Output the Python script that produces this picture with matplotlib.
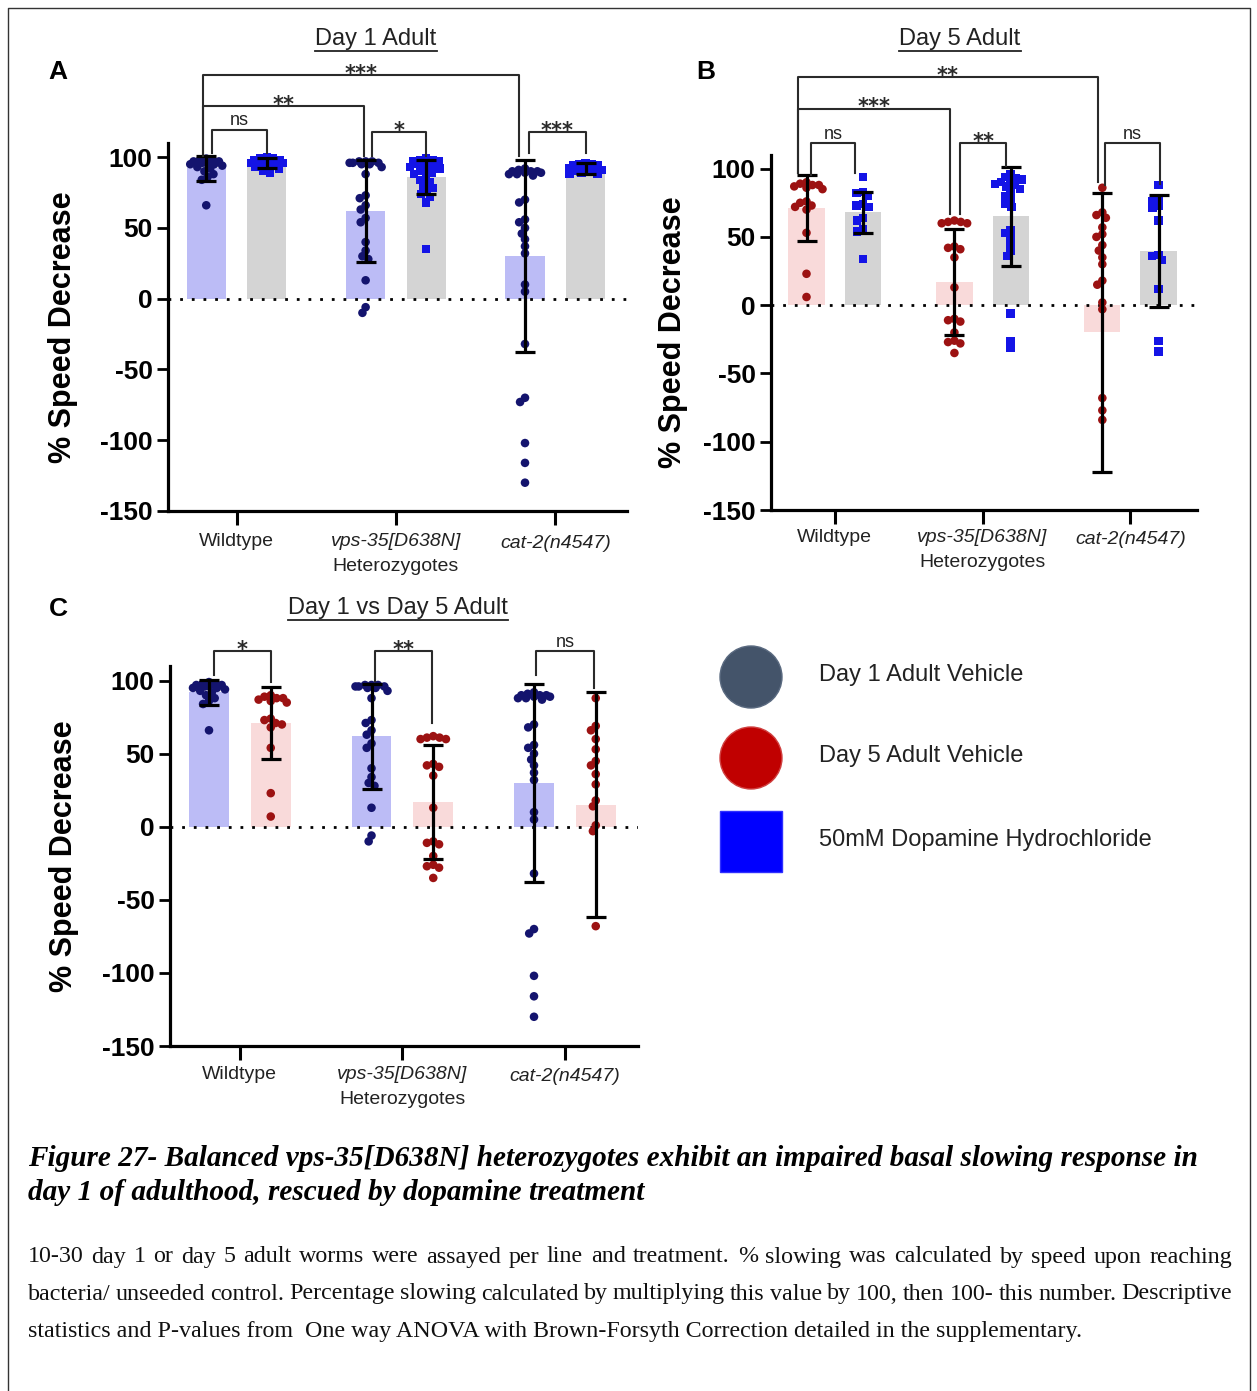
import matplotlib
matplotlib.use('Agg')
import matplotlib.pyplot as plt
from matplotlib.patches import Circle, Rectangle
import numpy as np

# ---------------- data ----------------
groups = ['Wildtype', 'vps-35[D638N]', 'cat-2(n4547)']
yticks = [-150, -100, -50, 0, 50, 100]

# Panel A: Day 1 adult, vehicle vs dopamine
a_day1_mean = [92, 62, 30]
a_day1_sd = [8.5, 36, 68]
a_dop_mean = [96, 86, 92]
a_dop_sd = [3.5, 12, 4]

day1_pts = [
    [99, 98, 98, 97, 97, 96, 96, 95, 95, 94, 93, 92, 90, 88, 86, 84, 66],
    [97, 97, 97, 96, 96, 96, 95, 95, 93, 88, 73, 71, 66, 63, 57, 54, 40, 34, 30, 28, 13, -6, -10],
    [92, 91, 90, 90, 89, 89, 88, 88, 87, 90, 70, 68, 56, 54, 50, 46, 42, 37, 32, 10, 5, -32, -70, -73,
     -102, -116, -130],
]
a_dop_pts = [
    [100, 99, 99, 98, 98, 97, 97, 97, 96, 96, 95, 95, 94, 93, 92, 90, 89],
    [99, 98, 98, 97, 97, 96, 95, 94, 93, 92, 91, 90, 89, 88, 86, 84, 82, 80, 78, 76, 74, 72, 68, 35],
    [96, 95, 95, 94, 94, 93, 93, 92, 92, 91, 91, 90, 90, 89, 88, 88],
]

# Panel B: Day 5 adult, vehicle vs dopamine
b_day5_mean = [71, 17, -20]
b_day5_sd = [24, 38.5, 102]
b_dop_mean = [68, 65, 40]
b_dop_sd = [15, 36, 41]

b_day5_pts = [
    [90, 89, 88, 88, 87, 86, 85, 76, 75, 73, 72, 70, 53, 23, 6],
    [62, 61, 61, 60, 60, 43, 42, 41, 35, 13, -10, -11, -12, -20, -26, -27, -28, -35],
    [86, 68, 66, 64, 57, 52, 50, 44, 40, 35, 30, 18, 15, 2, -3, -68, -77, -84],
]
b_dop_pts = [
    [94, 83, 82, 80, 74, 73, 72, 64, 62, 56, 54, 34],
    [96, 94, 93, 92, 91, 90, 89, 88, 87, 85, 82, 80, 77, 74, 72, 55, 53, 50, 45, 40, 36, -6, -26, -31],
    [88, 78, 76, 73, 71, 62, 37, 36, 33, 12, -26, -34],
]

# Panel C: Day 1 vs Day 5 adult vehicle
c_day5_mean = [71, 17, 15]
c_day5_sd = [24.5, 39, 77]
c_day5_pts = [
    [90, 89, 88, 88, 87, 86, 85, 74, 73, 71, 70, 68, 54, 23, 7],
    [62, 61, 61, 60, 60, 43, 42, 41, 35, 13, -10, -11, -12, -20, -26, -27, -28, -35],
    [88, 69, 66, 60, 53, 45, 42, 36, 29, 18, 14, 1, -3, -68],
]

legend_labels = ['Day 1 Adult Vehicle', 'Day 5 Adult Vehicle', '50mM Dopamine Hydrochloride']

caption_lines = ['Figure 27- Balanced vps-35[D638N] heterozygotes exhibit an impaired basal slowing response in',
                 'day 1 of adulthood, rescued by dopamine treatment']
body_lines = ['10-30 day 1 or day 5 adult worms were assayed per line and treatment. % slowing was calculated by speed upon reaching',
              'bacteria/ unseeded control. Percentage slowing calculated by multiplying this value by 100, then 100- this number.   Descriptive',
              'statistics and P-values from  One way ANOVA with Brown-Forsyth Correction detailed in the supplementary.']

# ---------------- styles ----------------
C_DAY1_BAR = '#bcbcf6'
C_DOP_BAR = '#d4d4d4'
C_DAY5_BAR = '#f9dada'
C_DAY1_PT = '#14146e'
C_DAY5_PT = '#9c1212'
C_DOP_PT = '#1414e6'
SANS = 'Liberation Sans'

W, H = 1257, 1391
fig = plt.figure(figsize=(W / 100, H / 100), dpi=100)
fig.patch.set_facecolor('white')


def fx(px):
    return px / W


def fy(py):
    return 1 - py / H


XLIM = (-0.43, 2.45)
YLIM = (-150, 110)
OFF = 0.19
BW = 0.245


def swarm(vals, ppx, ppy, d=6.5, wmax=16.0):
    """deterministic compact beeswarm offsets (in data x units)"""
    placed = []
    out = [0.0] * len(vals)
    order = sorted(range(len(vals)), key=lambda i: -vals[i])
    grid = list(np.linspace(-wmax, wmax, 9))
    for i in order:
        y = vals[i] * ppy
        cands = [0.0]
        for (px, py) in placed:
            dy = abs(y - py)
            if dy < d:
                dx = np.sqrt(d * d - dy * dy)
                cands += [px + dx, px - dx]
        cands = [c for c in cands if abs(c) <= wmax]
        cands.sort(key=lambda c: (abs(c), c))
        choice = None
        for c in cands:
            if all((c - px) ** 2 + (y - py) ** 2 >= d * d - 1e-6 for (px, py) in placed):
                choice = c
                break
        if choice is None:
            best, bestd = 0.0, -1
            for c in grid:
                md = min((c - px) ** 2 + (y - py) ** 2 for (px, py) in placed)
                if md > bestd:
                    best, bestd = c, md
            choice = best
        placed.append((choice, y))
        out[i] = choice / ppx
    return out


def make_panel(l, t, r, b, series, brackets, label_dy):
    ax = fig.add_axes([fx(l), fy(b), (r - l) / W, (b - t) / H])
    ax.set_xlim(*XLIM)
    ax.set_ylim(*YLIM)
    ppx = (r - l) / (XLIM[1] - XLIM[0])
    ppy = (b - t) / (YLIM[1] - YLIM[0])
    for s in ['top', 'right']:
        ax.spines[s].set_visible(False)
    for s in ['left', 'bottom']:
        ax.spines[s].set_linewidth(2.3)
    ax.set_yticks(yticks)
    ax.set_yticklabels([str(v) for v in yticks], fontsize=19, fontweight='bold', family=SANS)
    ax.set_xticks([0, 1, 2])
    ax.set_xticklabels(['', '', ''])
    ax.tick_params(axis='y', length=8, width=2.0, pad=3)
    ax.tick_params(axis='x', length=10, width=2.2)
    ax.set_ylabel('% Speed Decrease', fontsize=22, fontweight='bold', family=SANS)
    ax.yaxis.set_label_coords(-0.195, 0.5)
    ax.axhline(0, color='black', lw=2.0, ls=(0, (1, 3.2)), zorder=2)
    for (off, means, sds, pts, bc, pc, mk) in series:
        xs = [g + off for g in range(3)]
        ax.bar(xs, means, width=BW, color=bc, zorder=1)
        for g in range(3):
            dx = swarm(pts[g], ppx, ppy)
            ax.scatter([xs[g] + v for v in dx], pts[g], s=38 if mk == 'o' else 36, marker=mk,
                       color=pc, edgecolors='none', zorder=3, clip_on=False)
        ax.errorbar(xs, means, yerr=sds, fmt='none', ecolor='black', elinewidth=2.3,
                    capsize=7, capthick=2.3, zorder=5, clip_on=False)
    for (x1, x2, y, b1, b2, txt) in brackets:
        ax.plot([x1, x1, x2, x2], [b1, y, y, b2], color='#2a2a2a', lw=1.5, clip_on=False, zorder=6)
        if txt == 'ns':
            ax.annotate(txt, xy=((x1 + x2) / 2, y), xytext=(0, 3.5), textcoords='offset points',
                        ha='center', va='baseline', fontsize=13, family=SANS, color='#222222',
                        annotation_clip=False)
        else:
            ax.annotate(txt, xy=((x1 + x2) / 2, y), xytext=(0, -3.5), textcoords='offset points',
                        ha='center', va='baseline', fontsize=15, fontweight='bold',
                        family='DejaVu Sans', color='#2a2a2a', annotation_clip=False)
    tr = ax.get_xaxis_transform()
    lbl_kw = dict(xycoords=tr, textcoords='offset points', ha='center', va='center',
                  fontsize=14, family=SANS, color='#222222', annotation_clip=False)
    ax.annotate(groups[0], xy=(0, 0), xytext=(0, -label_dy), **lbl_kw)
    ax.annotate(groups[1], xy=(1, 0), xytext=(0, -label_dy), style='italic', **lbl_kw)
    ax.annotate('Heterozygotes', xy=(1, 0), xytext=(0, -label_dy - 18), **lbl_kw)
    ax.annotate(groups[2], xy=(2, 0), xytext=(0, -label_dy - 1.5), style='italic', **lbl_kw)
    return ax


# Panel A
series_a = [(-OFF, a_day1_mean, a_day1_sd, day1_pts, C_DAY1_BAR, C_DAY1_PT, 'o'),
            (OFF, a_dop_mean, a_dop_sd, a_dop_pts, C_DOP_BAR, C_DOP_PT, 's')]
br_a = [(-0.21, 1.77, 158, 101, 101, '***'),
        (-0.21, 0.80, 136, 101, 101, '**'),
        (-0.155, 0.19, 119, 103, 103, 'ns'),
        (0.85, 1.19, 118, 101, 101, '*'),
        (1.835, 2.19, 118, 103, 103, '***')]
make_panel(168, 143, 627, 511, series_a, br_a, 22)

# Panel B
series_b = [(-OFF, b_day5_mean, b_day5_sd, b_day5_pts, C_DAY5_BAR, C_DAY5_PT, 'o'),
            (OFF, b_dop_mean, b_dop_sd, b_dop_pts, C_DOP_BAR, C_DOP_PT, 's')]
br_b = [(-0.25, 1.78, 167, 97, 90, '**'),
        (-0.25, 0.78, 144, 97, 67, '***'),
        (-0.16, 0.14, 118.5, 95, 97, 'ns'),
        (0.85, 1.16, 118.5, 67, 102, '**'),
        (1.83, 2.20, 118.5, 88, 89, 'ns')]
make_panel(771, 155, 1197, 510, series_b, br_b, 19.5)

# Panel C
series_c = [(-OFF, a_day1_mean, a_day1_sd, day1_pts, C_DAY1_BAR, C_DAY1_PT, 'o'),
            (OFF, c_day5_mean, c_day5_sd, c_day5_pts, C_DAY5_BAR, C_DAY5_PT, 'o')]
br_c = [(-0.16, 0.19, 120, 104, 99, '*'),
        (0.83, 1.18, 120, 100, 71, '**'),
        (1.82, 2.18, 120, 104, 95, 'ns')]
make_panel(170, 666, 638, 1046, series_c, br_c, 20.5)

# ---------------- overlay (letters, titles, legend, caption, border) ----------------
ov = fig.add_axes([0, 0, 1, 1], zorder=-5)
ov.set_xlim(0, W)
ov.set_ylim(H, 0)
ov.axis('off')

ov.plot([7.5, 7.5, 1249.5, 1249.5], [H + 5, 8, 8, H + 5], color='#333333', lw=1.0)

for (ltr, x, y) in [('A', 58, 72), ('B', 706, 72), ('C', 58, 609)]:
    ov.text(x, y, ltr, ha='center', va='center', fontsize=19, fontweight='bold', family=SANS)

fig.canvas.draw()
renderer = fig.canvas.get_renderer()
for (ttl, x, y) in [('Day 1 Adult', 376, 39), ('Day 5 Adult', 960, 39), ('Day 1 vs Day 5 Adult', 398, 608)]:
    t = ov.text(x, y, ttl, ha='center', va='center', fontsize=17, family=SANS, color='#222222')
    bb = t.get_window_extent(renderer)
    ov.plot([bb.x0, bb.x1], [y + 12, y + 12], color='#222222', lw=1.3)

# legend
ov.add_patch(Circle((751, 677), 31, facecolor='#44546a', edgecolor='#5a6a80', lw=1))
ov.add_patch(Circle((751, 758), 31, facecolor='#c00000', edgecolor='#d04040', lw=1))
ov.add_patch(Rectangle((720, 811), 62, 61, facecolor='#0000ff', edgecolor='#3030ff', lw=1))
for lab, y in zip(legend_labels, [675, 756, 840]):
    ov.text(819, y, lab, ha='left', va='center', fontsize=17, family=SANS, color='#222222')

# caption (bold italic serif)
cap_kw = dict(family='Liberation Serif', fontweight='bold', style='italic', color='black')
tt = ov.text(0, 0, caption_lines[0], fontsize=18, **cap_kw)
wcap = tt.get_window_extent(renderer).width
tt.remove()
cap_size = 18 * (1200 - 28) / wcap
for line, y in zip(caption_lines, [1158, 1192]):
    ov.text(28, y, line, ha='left', va='center', fontsize=cap_size, **cap_kw)

# body text (justified lines 1-2)
body_kw = dict(family='Liberation Serif', color='#111111')
tt = ov.text(0, 0, body_lines[2], fontsize=15, **body_kw)
wb = tt.get_window_extent(renderer).width
tt.remove()
body_size = 15 * (1087 - 28) / wb


def justified(line, y, x0, x1):
    words = line.split()
    widths = []
    for w in words:
        t = ov.text(0, 0, w, fontsize=body_size, **body_kw)
        widths.append(t.get_window_extent(renderer).width)
        t.remove()
    gap = (x1 - x0 - sum(widths)) / (len(words) - 1)
    x = x0
    for w, wd in zip(words, widths):
        ov.text(x, y, w, ha='left', va='center', fontsize=body_size, **body_kw)
        x += wd + gap


justified(body_lines[0], 1257, 28, 1232)
justified(body_lines[1], 1294, 28, 1232)
ov.text(28, 1331, body_lines[2], ha='left', va='center', fontsize=body_size, **body_kw)

fig.savefig('out.png', dpi=100)
